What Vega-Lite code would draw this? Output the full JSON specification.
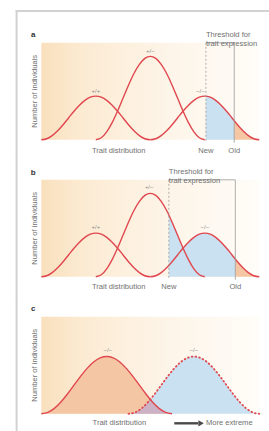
{
"$schema":"https://vega.github.io/schema/vega-lite/v6.json",
"padding":{"left":14.3,"top":8.8,"right":0,"bottom":0},
"background":"white",
"spacing":40,
"bounds":"flush",
"config":{"axis":{"disable":true},"legend":{"disable":true},"view":{"stroke":null},"text":{"font":"Liberation Sans","fontSize":7.6,"color":"#707070"}},
"datasets":{
"one":[{}],
"curvesAB":[
{"c":"L","x":0,"y":0},{"c":"L","x":0.25,"y":0.011},{"c":"L","x":0.5,"y":0.043},{"c":"L","x":0.75,"y":0.093},{"c":"L","x":1,"y":0.155},{"c":"L","x":1.25,"y":0.225},{"c":"L","x":1.5,"y":0.295},{"c":"L","x":1.75,"y":0.357},{"c":"L","x":2,"y":0.407},{"c":"L","x":2.25,"y":0.439},{"c":"L","x":2.5,"y":0.45},{"c":"L","x":2.75,"y":0.439},{"c":"L","x":3,"y":0.407},{"c":"L","x":3.25,"y":0.357},{"c":"L","x":3.5,"y":0.295},{"c":"L","x":3.75,"y":0.225},{"c":"L","x":4,"y":0.155},{"c":"L","x":4.25,"y":0.093},{"c":"L","x":4.5,"y":0.043},{"c":"L","x":4.75,"y":0.011},{"c":"L","x":5,"y":0},
{"c":"M","x":2.5,"y":0},{"c":"M","x":2.75,"y":0.021},{"c":"M","x":3,"y":0.082},{"c":"M","x":3.25,"y":0.177},{"c":"M","x":3.5,"y":0.297},{"c":"M","x":3.75,"y":0.43},{"c":"M","x":4,"y":0.563},{"c":"M","x":4.25,"y":0.683},{"c":"M","x":4.5,"y":0.778},{"c":"M","x":4.75,"y":0.839},{"c":"M","x":5,"y":0.86},{"c":"M","x":5.25,"y":0.839},{"c":"M","x":5.5,"y":0.778},{"c":"M","x":5.75,"y":0.683},{"c":"M","x":6,"y":0.563},{"c":"M","x":6.25,"y":0.43},{"c":"M","x":6.5,"y":0.297},{"c":"M","x":6.75,"y":0.177},{"c":"M","x":7,"y":0.082},{"c":"M","x":7.25,"y":0.021},{"c":"M","x":7.5,"y":0},
{"c":"R","x":5,"y":0},{"c":"R","x":5.25,"y":0.011},{"c":"R","x":5.5,"y":0.043},{"c":"R","x":5.75,"y":0.093},{"c":"R","x":6,"y":0.155},{"c":"R","x":6.25,"y":0.225},{"c":"R","x":6.5,"y":0.295},{"c":"R","x":6.75,"y":0.357},{"c":"R","x":7,"y":0.407},{"c":"R","x":7.25,"y":0.439},{"c":"R","x":7.5,"y":0.45},{"c":"R","x":7.75,"y":0.439},{"c":"R","x":8,"y":0.407},{"c":"R","x":8.25,"y":0.357},{"c":"R","x":8.5,"y":0.295},{"c":"R","x":8.75,"y":0.225},{"c":"R","x":9,"y":0.155},{"c":"R","x":9.25,"y":0.093},{"c":"R","x":9.5,"y":0.043},{"c":"R","x":9.75,"y":0.011},{"c":"R","x":10,"y":0}
],
"fillA":[
{"part":"blue","x":7.55,"y":0.4496},{"part":"blue","x":7.75,"y":0.439},{"part":"blue","x":8,"y":0.407},{"part":"blue","x":8.25,"y":0.357},{"part":"blue","x":8.5,"y":0.295},{"part":"blue","x":8.75,"y":0.225},{"part":"blue","x":8.85,"y":0.197},
{"part":"orange","x":8.85,"y":0.197},{"part":"orange","x":9,"y":0.155},{"part":"orange","x":9.25,"y":0.093},{"part":"orange","x":9.5,"y":0.043},{"part":"orange","x":9.75,"y":0.011},{"part":"orange","x":10,"y":0}
],
"fillB":[
{"part":"blue","x":5.85,"y":0.637},{"part":"blue","x":6,"y":0.563},{"part":"blue","x":6.25,"y":0.43},{"part":"blue","x":6.5,"y":0.297},{"part":"blue","x":6.75,"y":0.357},{"part":"blue","x":7,"y":0.407},{"part":"blue","x":7.25,"y":0.439},{"part":"blue","x":7.5,"y":0.45},{"part":"blue","x":7.75,"y":0.439},{"part":"blue","x":8,"y":0.407},{"part":"blue","x":8.25,"y":0.357},{"part":"blue","x":8.5,"y":0.295},{"part":"blue","x":8.75,"y":0.225},{"part":"blue","x":8.9,"y":0.183},
{"part":"orange","x":8.9,"y":0.183},{"part":"orange","x":9,"y":0.155},{"part":"orange","x":9.25,"y":0.093},{"part":"orange","x":9.5,"y":0.043},{"part":"orange","x":9.75,"y":0.011},{"part":"orange","x":10,"y":0}
],
"thrA":[{"new":7.55,"old":8.85,"label":"Threshold for\ntrait expression"}],
"thrB":[{"new":5.85,"old":8.9,"label":"Threshold for\ntrait expression"}],
"peaksA":[{"x":2.5,"y":0.45,"label":"+/+"},{"x":5,"y":0.86,"label":"+/−"},{"x":7.3,"y":0.45,"label":"−/−"}],
"peaksB":[{"x":2.5,"y":0.45,"label":"+/+"},{"x":4.95,"y":0.86,"label":"+/−"},{"x":7.5,"y":0.45,"label":"−/−"}],
"curvesC":[
{"c":"L","x":0,"y":0},{"c":"L","x":0.3,"y":0.0145},{"c":"L","x":0.6,"y":0.056},{"c":"L","x":0.9,"y":0.122},{"c":"L","x":1.2,"y":0.204},{"c":"L","x":1.5,"y":0.295},{"c":"L","x":1.8,"y":0.386},{"c":"L","x":2.1,"y":0.468},{"c":"L","x":2.4,"y":0.534},{"c":"L","x":2.7,"y":0.576},{"c":"L","x":3,"y":0.59},{"c":"L","x":3.3,"y":0.576},{"c":"L","x":3.6,"y":0.534},{"c":"L","x":3.9,"y":0.468},{"c":"L","x":4.2,"y":0.386},{"c":"L","x":4.5,"y":0.295},{"c":"L","x":4.8,"y":0.204},{"c":"L","x":5.1,"y":0.122},{"c":"L","x":5.4,"y":0.056},{"c":"L","x":5.7,"y":0.0145},{"c":"L","x":6,"y":0},
{"c":"R","x":4,"y":0},{"c":"R","x":4.3,"y":0.0145},{"c":"R","x":4.6,"y":0.056},{"c":"R","x":4.9,"y":0.122},{"c":"R","x":5.2,"y":0.204},{"c":"R","x":5.5,"y":0.295},{"c":"R","x":5.8,"y":0.386},{"c":"R","x":6.1,"y":0.468},{"c":"R","x":6.4,"y":0.534},{"c":"R","x":6.7,"y":0.576},{"c":"R","x":7,"y":0.59},{"c":"R","x":7.3,"y":0.576},{"c":"R","x":7.6,"y":0.534},{"c":"R","x":7.9,"y":0.468},{"c":"R","x":8.2,"y":0.386},{"c":"R","x":8.5,"y":0.295},{"c":"R","x":8.8,"y":0.204},{"c":"R","x":9.1,"y":0.122},{"c":"R","x":9.4,"y":0.056},{"c":"R","x":9.7,"y":0.0145},{"c":"R","x":10,"y":0}
],
"overlapC":[{"x":4,"y":0},{"x":4.3,"y":0.0145},{"x":4.6,"y":0.056},{"x":4.9,"y":0.122},{"x":5,"y":0.1475},{"x":5.1,"y":0.122},{"x":5.4,"y":0.056},{"x":5.7,"y":0.0145},{"x":6,"y":0}],
"peaksC":[{"x":3.05,"y":0.59,"label":"−/−"},{"x":7,"y":0.59,"label":"−/−"}]
},
"vconcat":[
{
"width":218,"height":97,
"view":{"stroke":null,"fill":{"gradient":"linear","x1":0,"y1":0,"x2":1,"y2":0,"stops":[{"offset":0,"color":"#f9e0bd"},{"offset":0.2,"color":"#fcebd3"},{"offset":0.55,"color":"#fdf4e7"},{"offset":1,"color":"#fffdf9"}]}},
"layer":[
{"data":{"name":"fillA"},"mark":{"type":"area","interpolate":"monotone"},"encoding":{"x":{"field":"x","type":"quantitative","scale":{"domain":[0,10],"nice":false,"zero":false}},"y":{"field":"y","type":"quantitative","stack":null,"scale":{"domain":[0,1],"nice":false}},"color":{"field":"part","type":"nominal","scale":{"domain":["blue","orange"],"range":["#c9e1f1","#f5c6a3"]}}}},
{"data":{"name":"curvesAB"},"mark":{"type":"line","interpolate":"monotone","color":"#e0474f","strokeWidth":1.4},"encoding":{"x":{"field":"x","type":"quantitative"},"y":{"field":"y","type":"quantitative"},"detail":{"field":"c"}}},
{"data":{"name":"thrA"},"mark":{"type":"rule","color":"#9a9a9a","strokeWidth":0.8,"strokeDash":[2,2]},"encoding":{"x":{"field":"new","type":"quantitative"},"y":{"datum":1},"y2":{"datum":-0.03}}},
{"data":{"name":"thrA"},"mark":{"type":"rule","color":"#9a9a9a","strokeWidth":0.8},"encoding":{"x":{"field":"old","type":"quantitative"},"y":{"datum":1},"y2":{"datum":-0.03}}},
{"data":{"name":"thrA"},"mark":{"type":"rule","color":"#9a9a9a","strokeWidth":0.8},"encoding":{"x":{"field":"new","type":"quantitative"},"x2":{"field":"old"},"y":{"datum":1}}},
{"data":{"name":"thrA"},"mark":{"type":"text","align":"left","baseline":"bottom","lineBreak":"\n","lineHeight":9,"dy":-3.5},"encoding":{"x":{"field":"new","type":"quantitative"},"y":{"datum":1},"text":{"field":"label"}}},
{"data":{"name":"thrA"},"mark":{"type":"text","baseline":"middle","dy":11},"encoding":{"x":{"field":"new","type":"quantitative"},"y":{"datum":0},"text":{"value":"New"}}},
{"data":{"name":"thrA"},"mark":{"type":"text","baseline":"middle","dy":11},"encoding":{"x":{"field":"old","type":"quantitative"},"y":{"datum":0},"text":{"value":"Old"}}},
{"data":{"name":"peaksA"},"mark":{"type":"text","baseline":"bottom","dy":-2.5,"fontSize":6,"color":"#8a8a8a"},"encoding":{"x":{"field":"x","type":"quantitative"},"y":{"field":"y","type":"quantitative"},"text":{"field":"label"}}},
{"data":{"name":"one"},"mark":{"type":"text","baseline":"middle","dy":11},"encoding":{"x":{"datum":3.55},"y":{"datum":0},"text":{"value":"Trait distribution"}}},
{"data":{"name":"one"},"mark":{"type":"text","angle":270,"baseline":"middle"},"encoding":{"x":{"datum":-0.28},"y":{"datum":0.5},"text":{"value":"Number of individuals"}}},
{"data":{"name":"one"},"mark":{"type":"text","fontWeight":"bold","color":"#333333","fontSize":8,"baseline":"middle","dy":-7.5},"encoding":{"x":{"datum":-0.37},"y":{"datum":1},"text":{"value":"a"}}},
{"data":{"name":"one"},"mark":{"type":"rule","color":"#d2d2d2","strokeWidth":2},"encoding":{"x":{"datum":-1.133},"y":{"datum":1.337},"y2":{"datum":-0.21}}},
{"data":{"name":"one"},"mark":{"type":"rule","color":"#d2d2d2","strokeWidth":2},"encoding":{"x":{"datum":-1.18},"x2":{"datum":10.48},"y":{"datum":1.327}}}
]
},
{
"width":218,"height":97,
"view":{"stroke":null,"fill":{"gradient":"linear","x1":0,"y1":0,"x2":1,"y2":0,"stops":[{"offset":0,"color":"#f9e0bd"},{"offset":0.2,"color":"#fcebd3"},{"offset":0.55,"color":"#fdf4e7"},{"offset":1,"color":"#fffdf9"}]}},
"layer":[
{"data":{"name":"fillB"},"mark":{"type":"area","interpolate":"monotone"},"encoding":{"x":{"field":"x","type":"quantitative","scale":{"domain":[0,10],"nice":false,"zero":false}},"y":{"field":"y","type":"quantitative","stack":null,"scale":{"domain":[0,1],"nice":false}},"color":{"field":"part","type":"nominal","scale":{"domain":["blue","orange"],"range":["#c9e1f1","#f5c6a3"]}}}},
{"data":{"name":"curvesAB"},"mark":{"type":"line","interpolate":"monotone","color":"#e0474f","strokeWidth":1.4},"encoding":{"x":{"field":"x","type":"quantitative"},"y":{"field":"y","type":"quantitative"},"detail":{"field":"c"}}},
{"data":{"name":"thrB"},"mark":{"type":"rule","color":"#9a9a9a","strokeWidth":0.8,"strokeDash":[2,2]},"encoding":{"x":{"field":"new","type":"quantitative"},"y":{"datum":1},"y2":{"datum":-0.03}}},
{"data":{"name":"thrB"},"mark":{"type":"rule","color":"#9a9a9a","strokeWidth":0.8},"encoding":{"x":{"field":"old","type":"quantitative"},"y":{"datum":1},"y2":{"datum":-0.03}}},
{"data":{"name":"thrB"},"mark":{"type":"rule","color":"#9a9a9a","strokeWidth":0.8},"encoding":{"x":{"field":"new","type":"quantitative"},"x2":{"field":"old"},"y":{"datum":1}}},
{"data":{"name":"thrB"},"mark":{"type":"text","align":"left","baseline":"bottom","lineBreak":"\n","lineHeight":9,"dy":-3.5},"encoding":{"x":{"field":"new","type":"quantitative"},"y":{"datum":1},"text":{"field":"label"}}},
{"data":{"name":"thrB"},"mark":{"type":"text","baseline":"middle","dy":10.5},"encoding":{"x":{"field":"new","type":"quantitative"},"y":{"datum":0},"text":{"value":"New"}}},
{"data":{"name":"thrB"},"mark":{"type":"text","baseline":"middle","dy":10.5},"encoding":{"x":{"field":"old","type":"quantitative"},"y":{"datum":0},"text":{"value":"Old"}}},
{"data":{"name":"peaksB"},"mark":{"type":"text","baseline":"bottom","dy":-3.5,"fontSize":6,"color":"#8a8a8a"},"encoding":{"x":{"field":"x","type":"quantitative"},"y":{"field":"y","type":"quantitative"},"text":{"field":"label"}}},
{"data":{"name":"one"},"mark":{"type":"text","baseline":"middle","dy":10.5},"encoding":{"x":{"datum":3.55},"y":{"datum":0},"text":{"value":"Trait distribution"}}},
{"data":{"name":"one"},"mark":{"type":"text","angle":270,"baseline":"middle"},"encoding":{"x":{"datum":-0.28},"y":{"datum":0.5},"text":{"value":"Number of individuals"}}},
{"data":{"name":"one"},"mark":{"type":"text","fontWeight":"bold","color":"#333333","fontSize":8,"baseline":"middle","dy":-7},"encoding":{"x":{"datum":-0.37},"y":{"datum":1},"text":{"value":"b"}}},
{"data":{"name":"one"},"mark":{"type":"rule","color":"#d2d2d2","strokeWidth":2},"encoding":{"x":{"datum":-1.133},"y":{"datum":1.21},"y2":{"datum":-0.21}}}
]
},
{
"width":218,"height":97,
"view":{"stroke":null,"fill":{"gradient":"linear","x1":0,"y1":0,"x2":1,"y2":0,"stops":[{"offset":0,"color":"#f9e0bd"},{"offset":0.2,"color":"#fcebd3"},{"offset":0.55,"color":"#fdf4e7"},{"offset":1,"color":"#fffdf9"}]}},
"layer":[
{"data":{"name":"curvesC"},"transform":[{"filter":"datum.c === 'R'"}],"mark":{"type":"area","interpolate":"monotone","color":"#c9e1f1"},"encoding":{"x":{"field":"x","type":"quantitative","scale":{"domain":[0,10],"nice":false,"zero":false}},"y":{"field":"y","type":"quantitative","stack":null,"scale":{"domain":[0,1],"nice":false}}}},
{"data":{"name":"curvesC"},"transform":[{"filter":"datum.c === 'L'"}],"mark":{"type":"area","interpolate":"monotone","color":"#f5c6a3"},"encoding":{"x":{"field":"x","type":"quantitative"},"y":{"field":"y","type":"quantitative","stack":null}}},
{"data":{"name":"overlapC"},"mark":{"type":"area","interpolate":"monotone","color":"#cdb2c6"},"encoding":{"x":{"field":"x","type":"quantitative"},"y":{"field":"y","type":"quantitative","stack":null}}},
{"data":{"name":"curvesC"},"transform":[{"filter":"datum.c === 'L'"}],"mark":{"type":"line","interpolate":"monotone","color":"#e0474f","strokeWidth":1.4},"encoding":{"x":{"field":"x","type":"quantitative"},"y":{"field":"y","type":"quantitative"}}},
{"data":{"name":"curvesC"},"transform":[{"filter":"datum.c === 'R'"}],"mark":{"type":"line","interpolate":"monotone","color":"#e0474f","strokeWidth":1.8,"strokeDash":[0.8,3],"strokeCap":"round"},"encoding":{"x":{"field":"x","type":"quantitative"},"y":{"field":"y","type":"quantitative"}}},
{"data":{"name":"peaksC"},"mark":{"type":"text","baseline":"bottom","dy":-3.5,"fontSize":6,"color":"#8a8a8a"},"encoding":{"x":{"field":"x","type":"quantitative"},"y":{"field":"y","type":"quantitative"},"text":{"field":"label"}}},
{"data":{"name":"one"},"mark":{"type":"text","baseline":"middle","dy":9.5},"encoding":{"x":{"datum":3.58},"y":{"datum":0},"text":{"value":"Trait distribution"}}},
{"data":{"name":"one"},"mark":{"type":"rule","color":"#4a4a4a","strokeWidth":2.4},"encoding":{"x":{"datum":6.1},"x2":{"datum":7.2},"y":{"datum":-0.098}}},
{"data":{"name":"one"},"mark":{"type":"point","shape":"triangle-right","filled":true,"color":"#4a4a4a","size":40,"opacity":1},"encoding":{"x":{"datum":7.33},"y":{"datum":-0.098}}},
{"data":{"name":"one"},"mark":{"type":"text","align":"left","baseline":"middle"},"encoding":{"x":{"datum":7.55},"y":{"datum":-0.098},"text":{"value":"More extreme"}}},
{"data":{"name":"one"},"mark":{"type":"text","angle":270,"baseline":"middle"},"encoding":{"x":{"datum":-0.28},"y":{"datum":0.5},"text":{"value":"Number of individuals"}}},
{"data":{"name":"one"},"mark":{"type":"text","fontWeight":"bold","color":"#333333","fontSize":8,"baseline":"middle","dy":-7.5},"encoding":{"x":{"datum":-0.37},"y":{"datum":1},"text":{"value":"c"}}},
{"data":{"name":"one"},"mark":{"type":"rule","color":"#d2d2d2","strokeWidth":2},"encoding":{"x":{"datum":-1.133},"y":{"datum":1.21},"y2":{"datum":-0.19}}}
]
}
]
}
